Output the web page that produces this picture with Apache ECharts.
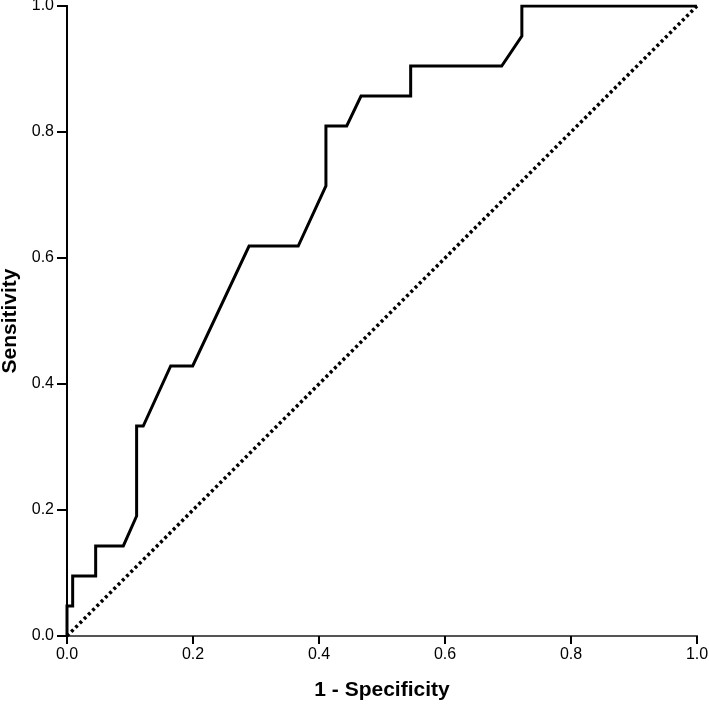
<!DOCTYPE html>
<html>
<head>
<meta charset="utf-8">
<script src="https://cdn.jsdelivr.net/npm/echarts@6/dist/echarts.min.js"></script>
<style>html,body{margin:0;padding:0;background:#fff;}#c{width:709px;height:704px;}</style>
</head>
<body>
<div id="c"></div>
<script>
// ROC curve points (1 - Specificity, Sensitivity)
const fpr = [0, 0, 0.009, 0.009, 0.0455, 0.0455, 0.0894, 0.1105, 0.1105, 0.121, 0.1646, 0.1995, 0.289, 0.367, 0.411, 0.411, 0.444, 0.4667, 0.5455, 0.5455, 0.69, 0.722, 0.722, 1.0];
const tpr = [0, 0.0476, 0.0476, 0.0952, 0.0952, 0.1429, 0.1429, 0.1905, 0.3333, 0.3333, 0.4286, 0.4286, 0.619, 0.619, 0.7143, 0.8095, 0.8095, 0.8571, 0.8571, 0.9048, 0.9048, 0.9524, 1.0, 1.0];
const refX = [0, 1];
const refY = [0, 1];
const tickLabels = ['0.0', '0.2', '0.4', '0.6', '0.8', '1.0'];

const roc = fpr.map((x, i) => [x, tpr[i]]);
const ref = refX.map((x, i) => [x, refY[i]]);
const fmt = v => tickLabels[Math.round(v * 5)];
const font = 'Liberation Sans, Arial, sans-serif';

const chart = echarts.init(document.getElementById('c'), null, {renderer: 'canvas'});
chart.setOption({
  animation: false,
  backgroundColor: '#fff',
  grid: {left: 67, right: 12, top: 6, bottom: 68, show: false, containLabel: false, outerBoundsMode: 'none'},
  xAxis: [{
    type: 'value', min: 0, max: 1, interval: 0.2,
    name: '1 - Specificity', nameLocation: 'middle', nameGap: 44,
    nameTextStyle: {fontFamily: font, fontSize: 21, fontWeight: 'bold', color: '#000'},
    axisLine: {lineStyle: {color: '#000', width: 2}},
    axisTick: {show: true, length: 8, lineStyle: {color: '#000', width: 2}},
    axisLabel: {fontFamily: font, fontSize: 16, color: '#000', margin: 11, formatter: fmt},
    splitLine: {show: false}
  }, {
    type: 'value', min: 0, max: 1, position: 'top',
    axisLine: {show: true, lineStyle: {color: '#555', width: 2}},
    axisTick: {show: false}, axisLabel: {show: false}, splitLine: {show: false}
  }],
  yAxis: [{
    type: 'value', min: 0, max: 1, interval: 0.2,
    name: 'Sensitivity', nameLocation: 'middle', nameGap: 45, nameRotate: 90,
    nameTextStyle: {fontFamily: font, fontSize: 21, fontWeight: 'bold', color: '#000'},
    axisLine: {show: true, lineStyle: {color: '#000', width: 2}},
    axisTick: {show: true, length: 10, lineStyle: {color: '#000', width: 2}},
    axisLabel: {fontFamily: font, fontSize: 16, color: '#000', margin: 13, formatter: fmt},
    splitLine: {show: false}
  }, {
    type: 'value', min: 0, max: 1, position: 'right',
    axisLine: {show: true, lineStyle: {color: '#000', width: 2}},
    axisTick: {show: false}, axisLabel: {show: false}, splitLine: {show: false}
  }],
  series: [{
    type: 'line', data: ref, symbol: 'none',
    lineStyle: {color: '#000', width: 3.5, type: [3, 3]}, z: 2
  }, {
    type: 'line', data: roc, symbol: 'none',
    lineStyle: {color: '#000', width: 3, join: 'miter'}, z: 3
  }]
});
</script>
</body>
</html>
